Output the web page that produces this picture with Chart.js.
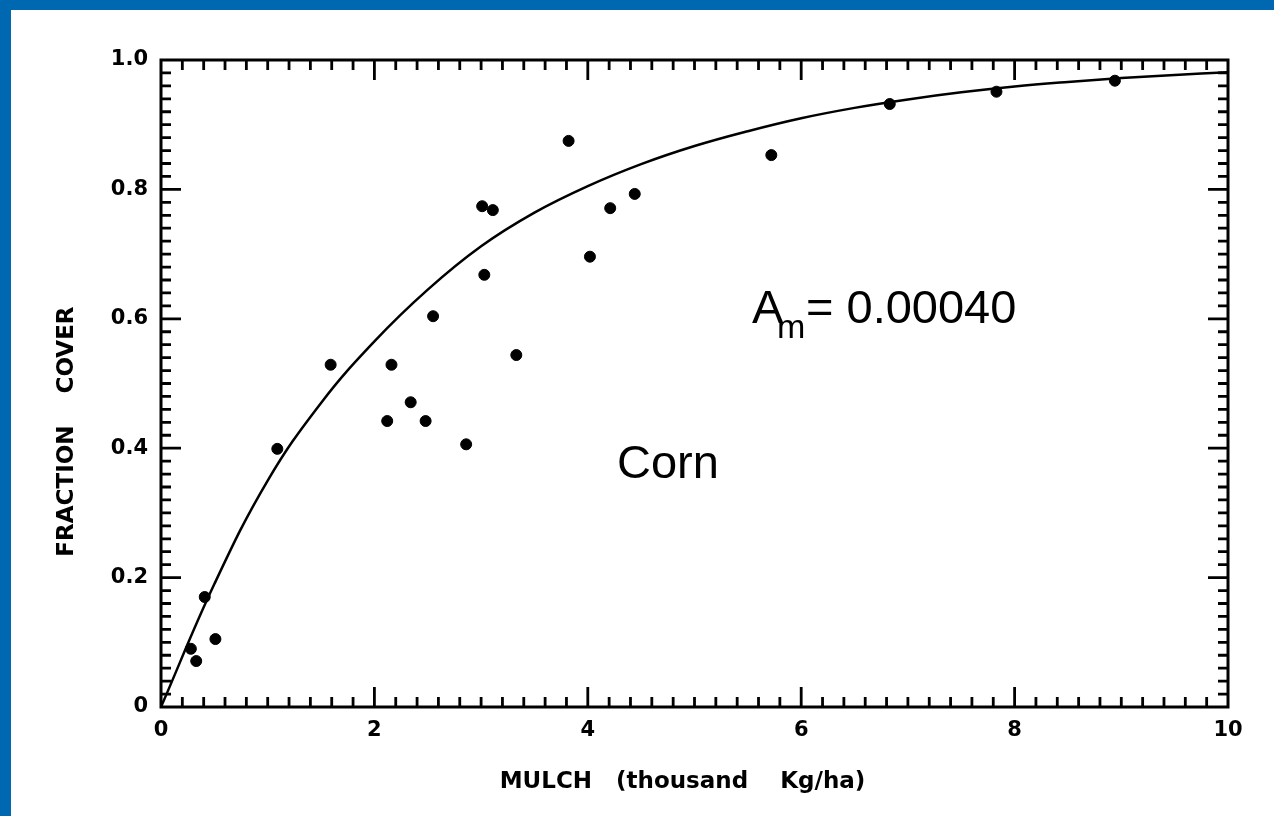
<!DOCTYPE html>
<html>
<head>
<meta charset="utf-8">
<title>Fraction cover vs mulch</title>
<script src="https://cdn.jsdelivr.net/npm/chart.js@4.4.1/dist/chart.umd.min.js"></script>
<style>
  html, body { margin: 0; padding: 0; background: #fff; }
  .wrap { position: relative; width: 1274px; height: 816px; overflow: hidden; }
  .bar-top { position: absolute; left: 0; top: 0; width: 1274px; height: 10px; background: #0068b1; }
  .bar-left { position: absolute; left: 0; top: 0; width: 11px; height: 816px; background: #0068b1; }
</style>
</head>
<body>
<div class="wrap">
  <canvas id="myChart" width="1274" height="816"></canvas>
  <div class="bar-top"></div>
  <div class="bar-left"></div>
</div>
<script>
// measured points, mulch in thousand kg/ha
const mulch = [0.28, 0.33, 0.41, 0.51, 1.09, 1.59, 2.12, 2.16, 2.34, 2.48, 2.55, 2.86,
  3.03, 3.01, 3.11, 3.33, 3.82, 4.02, 4.21, 4.44, 5.72, 6.83, 7.83, 8.94];
const cover = [0.09, 0.071, 0.17, 0.105, 0.399, 0.529, 0.442, 0.529, 0.471, 0.442, 0.604, 0.406,
  0.668, 0.774, 0.768, 0.544, 0.875, 0.696, 0.771, 0.793, 0.853, 0.932, 0.951, 0.968];

// fitted curve
const curveX = [0, 0.5, 1, 1.5, 2, 2.5, 3, 3.5, 4, 4.5, 5, 5.5, 6, 6.5, 7, 7.5, 8, 8.5, 9, 9.5, 10];
const curveY = [0, 0.19, 0.35, 0.47, 0.565, 0.645, 0.712, 0.764, 0.805, 0.839, 0.867, 0.89, 0.91,
  0.926, 0.939, 0.95, 0.959, 0.966, 0.972, 0.977, 0.981];

const xTicks = [0, 2, 4, 6, 8, 10];
const yTicks = [0, 0.2, 0.4, 0.6, 0.8, 1.0];

const tickFont = { family: "DejaVu Sans", weight: "bold", size: 21 };
const titleFont = { family: "DejaVu Sans", weight: "bold", size: 23 };

// frame + inward ticks on all four sides
const frame = {
  id: "frame",
  afterDraw(chart) {
    const { ctx, chartArea: a, scales } = chart;
    const x = scales.x, y = scales.y;
    ctx.save();
    ctx.strokeStyle = "#000";
    ctx.lineWidth = 3;
    ctx.strokeRect(a.left, a.top, a.right - a.left, a.bottom - a.top);
    ctx.lineWidth = 2.8;
    ctx.beginPath();
    for (let i = 1; i < 50; i++) {
      const px = x.getPixelForValue(i * 0.2);
      const len = i % 10 === 0 ? 20 : 10;
      ctx.moveTo(px, a.bottom); ctx.lineTo(px, a.bottom - len);
      ctx.moveTo(px, a.top); ctx.lineTo(px, a.top + len);
    }
    for (let i = 1; i < 50; i++) {
      const py = y.getPixelForValue(i * 0.02);
      const len = i % 10 === 0 ? 20 : 10;
      ctx.moveTo(a.left, py); ctx.lineTo(a.left + len, py);
      ctx.moveTo(a.right, py); ctx.lineTo(a.right - len, py);
    }
    ctx.stroke();

    // annotations
    ctx.fillStyle = "#000";
    ctx.textBaseline = "alphabetic";
    ctx.textAlign = "left";
    ctx.font = "47px 'Liberation Sans', Arial, sans-serif";
    ctx.fillText("A", 752, 323);
    ctx.fillText("= 0.00040", 806, 323);
    ctx.fillText("Corn", 617, 478);
    ctx.font = "34px 'Liberation Sans', Arial, sans-serif";
    ctx.fillText("m", 777, 338);
    ctx.restore();
  }
};

const config = {
  type: "scatter",
  data: {
    datasets: [
      {
        label: "fit",
        data: curveX.map((v, i) => ({ x: v, y: curveY[i] })),
        showLine: true,
        borderColor: "#000",
        borderWidth: 2.5,
        pointRadius: 0,
        tension: 0.4,
        order: 2
      },
      {
        label: "Corn",
        data: mulch.map((v, i) => ({ x: v, y: cover[i] })),
        backgroundColor: "#000",
        borderColor: "#000",
        pointRadius: 5.5,
        order: 1
      }
    ]
  },
  options: {
    responsive: false,
    animation: false,
    layout: { padding: { left: 49, top: 60, right: 46, bottom: 16 } },
    plugins: { legend: { display: false }, tooltip: { enabled: false } },
    scales: {
      x: {
        type: "linear",
        min: 0, max: 10,
        afterFit(scale) { scale.height = 93; },
        afterBuildTicks(scale) { scale.ticks = xTicks.map(v => ({ value: v })); },
        grid: { display: false },
        border: { display: false },
        ticks: { color: "#000", font: tickFont, padding: 3, maxRotation: 0 },
        title: { display: true, text: "MULCH   (thousand    Kg/ha)   ", color: "#000", font: titleFont }
      },
      y: {
        type: "linear",
        min: 0, max: 1,
        afterFit(scale) { scale.width = 112; },
        afterBuildTicks(scale) { scale.ticks = yTicks.map(v => ({ value: v })); },
        grid: { display: false },
        border: { display: false },
        ticks: {
          color: "#000", font: tickFont, padding: 5,
          callback: v => (v === 0 ? "0" : v.toFixed(1))
        },
        title: { display: true, text: "FRACTION    COVER            ", color: "#000", font: titleFont }
      }
    }
  },
  plugins: [frame]
};

const myChart = new Chart(document.getElementById("myChart"), config);
</script>
</body>
</html>
